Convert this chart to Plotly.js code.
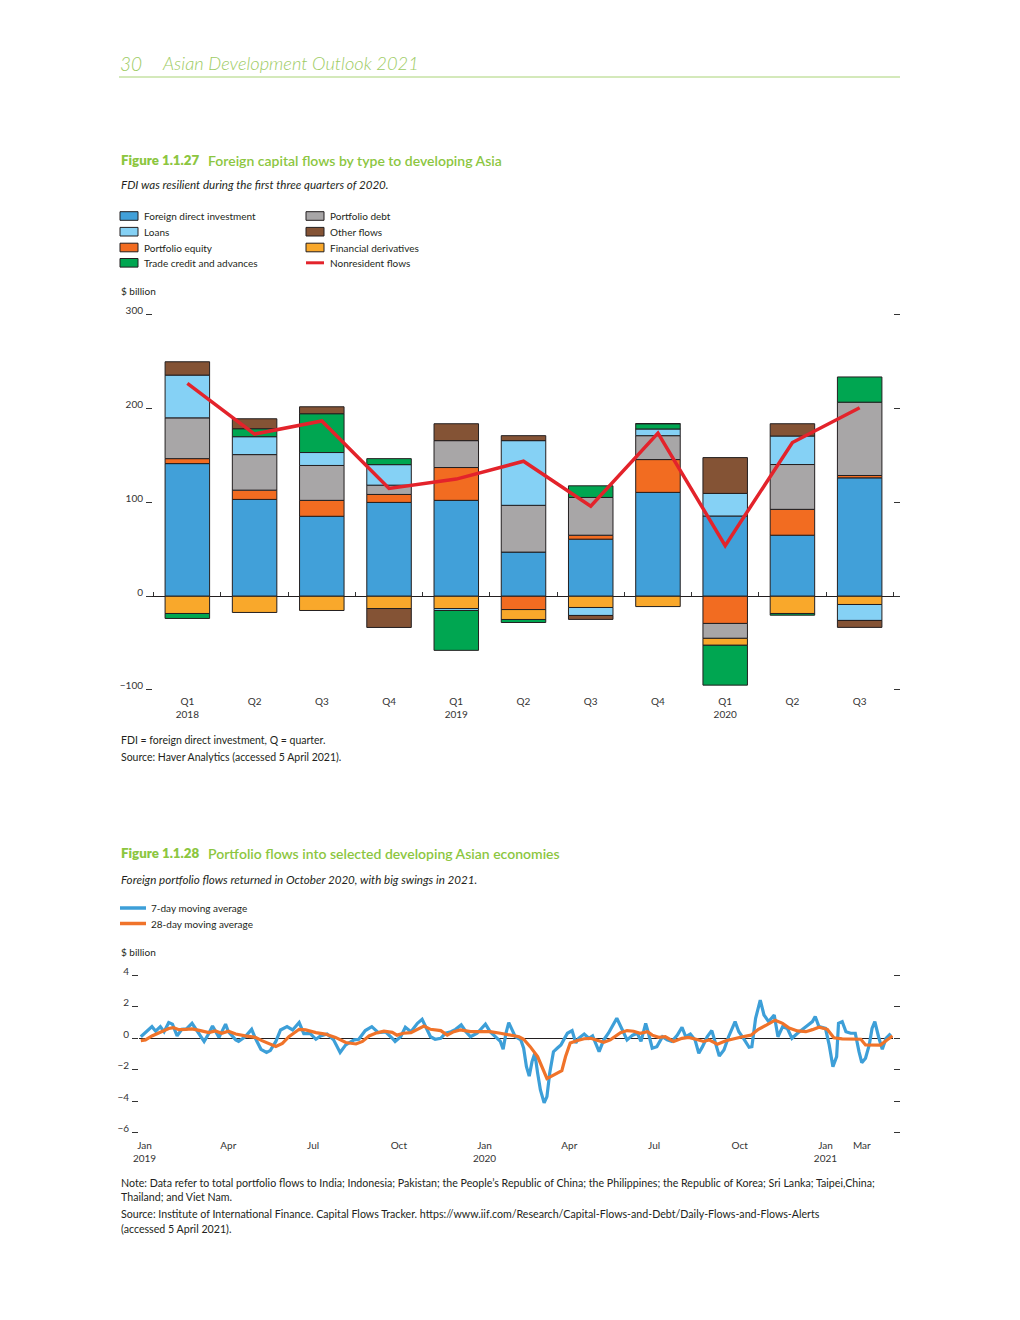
<!DOCTYPE html>
<html><head><meta charset="utf-8">
<script src="https://cdn.plot.ly/plotly-3.0.1.min.js"></script>
<style>html,body{margin:0;padding:0;background:#fff;}#chart{width:1020px;height:1320px;}</style>
</head><body><div id="chart"></div>
<script>
// ---------- Figure 1.1.27 data ($ billion) ----------
const quarters = ['Q1<br>2018','Q2','Q3','Q4','Q1<br>2019','Q2','Q3','Q4','Q1<br>2020','Q2','Q3'];
const fdi         = [141.5, 103.3, 85.3, 100.1, 102.3, 47.1, 60.9, 110.8, 85.6, 65.1, 126.3];
const portEquity  = [5.3, 9.9, 17.0, 8.5, 35.0, -14.2, 4.2, 35.0, -29.0, 27.6, 2.5];
const portDebt    = [43.5, 37.9, 37.2, 9.9, 28.7, 49.9, 40.3, 25.5, -15.9, 47.8, 78.2];
const finDeriv    = [-18.4, -17.3, -15.2, -13.1, -13.1, -10.6, -12.0, -11.0, -7.4, -18.4, -8.8];
const loans       = [45.6, 19.1, 13.8, 21.9, -2.1, 69.0, -8.5, 7.1, 24.1, 30.4, -17.0];
const tradeCredit = [-5.3, 8.5, 41.4, 6.4, -42.5, -3.2, 12.4, 5.7, -42.5, -1.8, 26.9];
const otherFlows  = [14.2, 10.6, 7.4, -20.2, 18.0, 5.3, -4.2, 0, 38.2, 13.1, -7.4];
const nonresident = [227, 173, 187, 115, 125, 144, 96, 174, 54, 164, 201];
const yTicks1 = [-100, 0, 100, 200, 300];

// ---------- Figure 1.1.28 data ($ billion, day offsets from 1 Jan 2019) ----------
const blueDay = [-4,5,8,12,17,21,26,30,35,40,
 45,51,56,60,64,69,73,80,87,90,
 98,101,108,115,119,125,131,135,141,146,
 153,159,166,171,178,184,189,196,203,210,
 216,225,230,237,244,251,259,266,269,275,
 280,286,293,298,302,307,312,318,323,329,
 334,340,345,350,357,366,371,377,382,385,
 388,391,395,398,404,407,410,413,416,419,
 422,425,429,432,435,439,443,447,450,454,
 459,463,466,472,477,481,488,493,498,504,
 507,513,518,524,529,533,538,541,545,550,
 556,561,566,572,577,581,586,591,595,599,
 604,609,614,617,622,627,634,638,643,649,
 652,656,661,665,670,676,680,685,690,695,
 701,706,711,717,720,724,731,735,739,743,
 745,749,753,758,763,767,770,774,778,781,
 784,788,792,796,801];
const blueVal = [0.1,0.63,0.74,0.45,0.74,0.42,1.0,0.9,0.15,0.57,
 0.6,0.95,0.5,0.2,-0.2,0.3,0.78,0.06,0.9,0.42,
 -0.1,-0.2,0.1,0.57,0,-0.7,-0.9,-0.78,-0.2,0.53,
 0.74,0.53,1.0,0.3,0.3,-0.06,0.15,0.27,-0.1,-0.9,
 -0.42,-0.1,-0.06,0.49,0.74,0.36,0.4,0,-0.2,0.1,
 0.7,0.42,0.95,1.2,0.74,0.1,-0.06,0,0.32,0.42,
 0.57,0.85,0.42,0.1,0.32,0.9,0.42,0.1,-0.2,-0.7,
 0.32,1.0,0.42,0.1,-0.1,-0.63,-1.8,-2.4,-1.48,-0.95,
 -2.2,-3.28,-4.1,-3.7,-2.2,-0.85,-0.63,-0.42,-0.1,0.32,
 0.49,-0.3,0,0.27,0,0.15,-0.85,-0.1,0.32,0.95,
 1.27,0.53,-0.1,0.2,0.32,-0.2,0.95,0.32,-0.63,-0.53,
 0.1,-0.1,-0.2,0.2,0.7,0.1,0.27,-0.1,-0.95,-0.53,
 0.1,0.49,-0.53,-1.12,-0.74,0.1,1.06,0.42,0,-0.57,
 -0.53,1.27,2.43,1.48,1.06,1.48,0.1,0.74,0.63,0,
 0.32,0.53,0.78,1.06,1.38,0.74,0.63,-0.42,-1.8,-1.16,
 0.95,1.06,0.42,0.32,0.32,-0.85,-1.55,-1.27,-0.42,0.63,
 1.06,0.1,-0.7,0,0.3];
const orangeDay = [-4,1,8,17,26,31,37,44,51,60,
 69,76,83,90,98,108,119,126,133,141,
 148,155,166,173,184,194,205,216,227,234,
 241,248,257,266,271,278,286,293,300,307,
 318,325,332,339,350,361,371,382,393,402,
 407,414,422,427,432,436,443,448,452,457,
 464,472,479,486,493,500,511,518,525,532,
 540,545,552,559,568,577,584,592,600,606,
 615,624,633,642,651,659,668,677,685,692,
 701,710,717,724,733,740,749,760,769,774,
 781,790,796,803];
const orangeVal = [-0.15,-0.1,0.15,0.36,0.62,0.68,0.55,0.57,0.6,0.49,
 0.36,0.47,0.32,0.45,0.27,0.15,0.06,-0.15,-0.32,-0.52,
 -0.32,0.1,0.57,0.53,0.36,0.27,0.06,-0.27,-0.36,-0.2,
 0.15,0.32,0.45,0.38,0.2,0.32,0.36,0.57,0.78,0.57,
 0.49,0.2,0.42,0.53,0.42,0.42,0.42,0.32,0.2,0.1,
 -0.06,-0.53,-1.16,-1.9,-2.55,-2.43,-2.18,-2.05,-1.16,-0.3,
 -0.15,-0.03,0,-0.15,-0.25,-0.1,0.36,0.49,0.45,0.32,
 0.42,0.2,0.06,0.1,-0.2,0,0.06,-0.06,-0.2,-0.1,
 -0.37,-0.15,0,0.1,0.2,0.57,0.85,1.15,0.95,0.65,
 0.47,0.42,0.55,0.7,0.57,0.03,-0.04,-0.06,-0.06,-0.42,
 -0.42,-0.43,-0.15,0.15];
const monthTickDates = ['2019-01-01','2019-04-01','2019-07-01','2019-10-01','2020-01-01','2020-04-01','2020-07-01','2020-10-01','2021-01-01','2021-02-09'];
const monthTickLabels = ['Jan<br>2019','Apr','Jul','Oct','Jan<br>2020','Apr','Jul','Oct','Jan<br>2021','Mar'];
const yTicks2 = [-6, -4, -2, 0, 2, 4];

// ---------- helpers ----------
const W = 1020, H = 1320;
const px = x => x / W;
const py = y => 1 - y / H;
const FONT = 'Lato, "Open Sans", sans-serif';
const INK = '#231f20';
const GREEN = '#8cc63f';
const toDate = d => new Date(Date.UTC(2019,0,1) + d * 86400000).toISOString().slice(0,10);
const idx = quarters.map((q, i) => i);

const barSeries = [
  {name:'Foreign direct investment', y:fdi, color:'#41a0d9'},
  {name:'Portfolio equity', y:portEquity, color:'#f26c21'},
  {name:'Portfolio debt', y:portDebt, color:'#a8a6a7'},
  {name:'Financial derivatives', y:finDeriv, color:'#f9a82b'},
  {name:'Loans', y:loans, color:'#85d1f5'},
  {name:'Trade credit and advances', y:tradeCredit, color:'#00a651'},
  {name:'Other flows', y:otherFlows, color:'#845335'}
];
const RED = '#e3232b', BLUE2 = '#3d9fd8', ORANGE2 = '#f0732a';

const traces = barSeries.map(s => ({
  type:'bar', name:s.name, x:idx, y:s.y, xaxis:'x', yaxis:'y',
  marker:{color:s.color, line:{color:INK, width:1}}, hoverinfo:'skip'
}));
traces.push({type:'scatter', mode:'lines', name:'Nonresident flows', x:idx, y:nonresident,
  xaxis:'x', yaxis:'y', line:{color:RED, width:3.5}, hoverinfo:'skip'});
traces.push({type:'scatter', mode:'lines', name:'7-day moving average', x:blueDay.map(toDate), y:blueVal,
  xaxis:'x2', yaxis:'y2', line:{color:BLUE2, width:3.2}, hoverinfo:'skip'});
traces.push({type:'scatter', mode:'lines', name:'28-day moving average', x:orangeDay.map(toDate), y:orangeVal,
  xaxis:'x2', yaxis:'y2', line:{color:ORANGE2, width:3.2}, hoverinfo:'skip'});

// chart 1 geometry: 300 at y=315px, -100 at y=690px; range padded so the end ticks are drawn
const pxPerUnit1 = (690 - 315) / 400;
const pad1 = 3;
const y1Range = [-100 - pad1, 300 + pad1];
const y1Dom = [py(690 + pad1 * pxPerUnit1), py(315 - pad1 * pxPerUnit1)];
const zeroPos1 = y1Dom[0] + (0 - y1Range[0]) / (y1Range[1] - y1Range[0]) * (y1Dom[1] - y1Dom[0]);

const tickFont = {family:FONT, size:10, color:'#333'};

const annotations = [];
const shapes = [];
function T(text, x, y, size, extra) {
  const o = Object.assign({text, xref:'paper', yref:'paper', x:px(x), y:py(y), xanchor:'left', yanchor:'middle',
    showarrow:false, borderpad:0, font:{family:FONT, size:size, color:INK}}, extra || {});
  if (extra && extra.font) o.font = Object.assign({family:FONT, size:size, color:INK}, extra.font);
  annotations.push(o);
}

// header
T('30', 119, 63, 19, {font:{color:'#9dcb63', style:'italic', weight:300}});
T('Asian Development Outlook 2021', 161, 63, 18.3, {font:{color:'#9dcb63', style:'italic', weight:300}});
shapes.push({type:'line', xref:'paper', yref:'paper', x0:px(119), x1:px(900), y0:py(77), y1:py(77), line:{color:'#a9d377', width:1}});

// figure 1 titles
T('Figure 1.1.27', 120, 160, 13.3, {font:{color:GREEN, weight:800}});
T('Foreign capital flows by type to developing Asia', 207, 160, 14, {font:{color:GREEN, weight:600}});
T('FDI was resilient during the first three quarters of 2020.', 120, 185, 11.6, {font:{style:'italic'}});

// figure 1 legend
const legendRows = [216, 231.7, 247.5, 262.8];
const legendLayout = [
  ['Foreign direct investment', 0, 0], ['Loans', 0, 1], ['Portfolio equity', 0, 2], ['Trade credit and advances', 0, 3],
  ['Portfolio debt', 1, 0], ['Other flows', 1, 1], ['Financial derivatives', 1, 2]
];
const colX = [120, 306];
legendLayout.forEach(([name, c, r]) => {
  const s = barSeries.find(b => b.name === name);
  const yc = legendRows[r];
  shapes.push({type:'rect', xref:'paper', yref:'paper', x0:px(colX[c]), x1:px(colX[c] + 18), y0:py(yc + 4.3), y1:py(yc - 4.3),
    fillcolor:s.color, line:{color:INK, width:1}});
  T(name, colX[c] + 23, yc, 10);
});
shapes.push({type:'line', xref:'paper', yref:'paper', x0:px(306), x1:px(324), y0:py(legendRows[3]), y1:py(legendRows[3]), line:{color:RED, width:3}});
T('Nonresident flows', 329, legendRows[3], 10);
T('$ billion', 120, 291, 10);

// figure 1 notes
T('FDI = foreign direct investment, Q = quarter.', 120, 740, 10.5);
T('Source: Haver Analytics (accessed 5 April 2021).', 120, 757, 10.5);

// figure 2 titles
T('Figure 1.1.28', 120, 853, 13.3, {font:{color:GREEN, weight:800}});
T('Portfolio flows into selected developing Asian economies', 207, 853, 14, {font:{color:GREEN, weight:600}});
T('Foreign portfolio flows returned in October 2020, with big swings in 2021.', 120, 879, 11.6, {font:{style:'italic'}});
shapes.push({type:'line', xref:'paper', yref:'paper', x0:px(120), x1:px(146), y0:py(908), y1:py(908), line:{color:BLUE2, width:3.5}});
T('7-day moving average', 150, 908, 10);
shapes.push({type:'line', xref:'paper', yref:'paper', x0:px(120), x1:px(146), y0:py(923.5), y1:py(923.5), line:{color:ORANGE2, width:3.5}});
T('28-day moving average', 150, 923.5, 10);
T('$ billion', 120, 952, 10);

T('Note: Data refer to total portfolio flows to India; Indonesia; Pakistan; the People\u2019s Republic of China; the Philippines; the Republic of Korea; Sri Lanka; Taipei,China;', 120, 1182, 10.65);
T('Thailand; and Viet Nam.', 120, 1196, 10.65);
T('Source: Institute of International Finance. Capital Flows Tracker. https://www.iif.com/Research/Capital-Flows-and-Debt/Daily-Flows-and-Flows-Alerts', 120, 1213, 10.65);
T('(accessed 5 April 2021).', 120, 1228, 10.65);

const layout = {
  width:W, height:H, margin:{l:0, r:0, t:0, b:0},
  paper_bgcolor:'#ffffff', plot_bgcolor:'rgba(0,0,0,0)',
  showlegend:false, barmode:'relative', bargap:0.338,
  font:{family:FONT, size:10, color:'#333'},
  xaxis:{domain:[px(146), px(900)], range:[-0.615, 10.6], anchor:'free', position:zeroPos1,
    tickmode:'array', tickvals:idx, ticktext:quarters, ticks:'', tickfont:tickFont,
    ticklabelstandoff:98, showgrid:false, zeroline:false, showline:false, fixedrange:true,
    minor:{tickmode:'linear', tick0:-0.5, dtick:1, ticks:'inside', ticklen:4, tickwidth:1, tickcolor:'#333', showgrid:false}},
  yaxis:{domain:y1Dom, range:y1Range, anchor:'x', tickmode:'array', tickvals:yTicks1,
    ticks:'inside', ticklen:6, tickwidth:1, tickcolor:'#333', mirror:'ticks', tickfont:tickFont,
    ticklabelshift:-4, ticklabelstandoff:2, showgrid:false, showline:false,
    zeroline:true, zerolinecolor:INK, zerolinewidth:1.2, fixedrange:true},
  xaxis2:{domain:[px(139), px(893)], type:'date', range:['2018-12-26 02:00', '2021-03-14 12:00'], anchor:'y2',
    tickmode:'array', tickvals:monthTickDates, ticktext:monthTickLabels, ticks:'', tickfont:tickFont,
    ticklabelstandoff:5, showgrid:false, zeroline:false, showline:false, fixedrange:true},
  yaxis2:{domain:[py(1132.8), py(975.3)], range:[-6, 4], anchor:'x2', tickmode:'array', tickvals:yTicks2,
    ticks:'outside', ticklen:6, tickwidth:1, tickcolor:'#333', mirror:'ticks', tickfont:tickFont,
    ticklabelshift:-4, ticklabelstandoff:1, showgrid:false, showline:false,
    zeroline:true, zerolinecolor:INK, zerolinewidth:1.2, fixedrange:true},
  annotations, shapes
};

Plotly.newPlot('chart', traces, layout, {displayModeBar:false, staticPlot:true});
</script>
</body></html>
